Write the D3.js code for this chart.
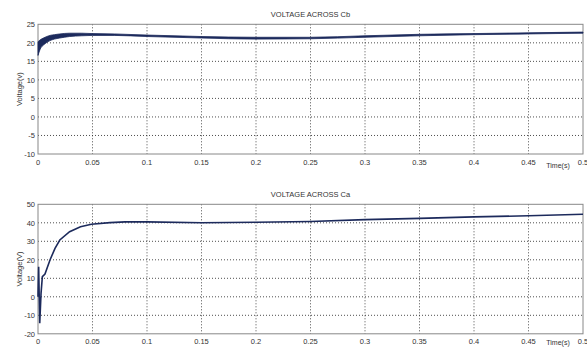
<!DOCTYPE html>
<html>
<head>
<meta charset="utf-8">
<script src="https://cdn.jsdelivr.net/npm/d3@7"></script>
<style>
  body { margin: 0; background: #fff; }
  text { font-family: "Liberation Sans", Arial, sans-serif; fill: #333; }
</style>
</head>
<body>
<svg id="chart" width="587" height="347"></svg>
<script>
// tick values shared by both panels
var timeTicks = [0, 0.05, 0.1, 0.15, 0.2, 0.25, 0.3, 0.35, 0.4, 0.45, 0.5];
var cbTicks = [-10, -5, 0, 5, 10, 15, 20, 25];
var caTicks = [-20, -10, 0, 10, 20, 30, 40, 50];

// voltage across Cb : ripple band (upper / lower envelope)
var cbTime  = [0, 0.002, 0.005, 0.008, 0.011, 0.015, 0.02, 0.029, 0.04, 0.05, 0.07, 0.1, 0.15, 0.2, 0.25, 0.3, 0.35, 0.4, 0.45, 0.5];
var cbUpper = [20.3, 20.8, 21.3, 21.7, 22.0, 22.2, 22.4, 22.6, 22.6, 22.5, 22.4, 22.1, 21.7, 21.5, 21.5, 21.9, 22.3, 22.5, 22.7, 22.9];
var cbLower = [16.6, 18.3, 19.4, 20.1, 20.6, 21.0, 21.3, 21.7, 21.9, 22.0, 22.0, 21.7, 21.3, 21.0, 21.1, 21.5, 21.9, 22.2, 22.4, 22.6];

// voltage across Ca
var caTime = [0, 0.0006, 0.0016, 0.0028, 0.004, 0.0064, 0.011, 0.0156, 0.02, 0.029, 0.039, 0.049, 0.066, 0.08, 0.1, 0.15, 0.2, 0.25, 0.3, 0.35, 0.4, 0.45, 0.5];
var caVolt = [0, 16.3, -14.3, 2, 10.9, 12.3, 19.9, 26.2, 30.7, 35.2, 37.9, 39.2, 40.1, 40.5, 40.5, 40.0, 40.3, 40.7, 41.7, 42.4, 43.2, 43.8, 44.6];

var svg = d3.select('#chart');
var lineColor = '#1c2a5c';
var left = 38, right = 583;

var x = d3.scaleLinear().domain([0, 0.5]).range([left, right]);

function panel(top, bottom, yTicks, title, ylabel, timeDy) {
  var y = d3.scaleLinear().domain([yTicks[0], yTicks[yTicks.length - 1]]).range([bottom, top]);
  var g = svg.append('g');

  // grid
  g.selectAll('.vg').data(timeTicks.slice(1, -1)).enter().append('line')
    .attr('x1', function(d){ return x(d); }).attr('x2', function(d){ return x(d); })
    .attr('y1', top).attr('y2', bottom)
    .attr('stroke', '#222').attr('stroke-width', 0.8).attr('stroke-dasharray', '1,2');
  g.selectAll('.hg').data(yTicks.slice(1, -1)).enter().append('line')
    .attr('x1', left).attr('x2', right)
    .attr('y1', function(d){ return y(d); }).attr('y2', function(d){ return y(d); })
    .attr('stroke', '#222').attr('stroke-width', 0.8).attr('stroke-dasharray', '1,2');

  // frame
  g.append('rect').attr('x', left).attr('y', top)
    .attr('width', right - left).attr('height', bottom - top)
    .attr('fill', 'none').attr('stroke', '#888').attr('stroke-width', 1);

  // tick labels
  g.selectAll('.xt').data(timeTicks).enter().append('text')
    .attr('x', function(d){ return x(d); }).attr('y', bottom + 10.5)
    .attr('text-anchor', 'middle').attr('font-size', 7.5)
    .text(function(d){ return d3.format('~g')(d); });
  g.selectAll('.yt').data(yTicks).enter().append('text')
    .attr('x', left - 3).attr('y', function(d){ return y(d) + 2.7; })
    .attr('text-anchor', 'end').attr('font-size', 7.5)
    .text(function(d){ return d; });

  g.append('text').attr('x', (left + right) / 2).attr('y', top - 7)
    .attr('text-anchor', 'middle').attr('font-size', 7.5).text(title);
  g.append('text').attr('x', 558).attr('y', bottom + timeDy)
    .attr('text-anchor', 'middle').attr('font-size', 7).text('Time(s)');
  g.append('text').attr('transform', 'translate(22,' + (top + bottom) / 2 + ') rotate(-90)')
    .attr('text-anchor', 'middle').attr('font-size', 7.5).text(ylabel);

  return {g: g, y: y};
}

var p1 = panel(24.3, 154, cbTicks, 'VOLTAGE ACROSS Cb', 'Voltage(v)', 14);
var p2 = panel(204.3, 333.8, caTicks, 'VOLTAGE ACROSS Ca', 'Voltage(V)', 11);

var area = d3.area()
  .x(function(d, i){ return x(cbTime[i]); })
  .y0(function(d, i){ return p1.y(cbLower[i]); })
  .y1(function(d, i){ return p1.y(cbUpper[i]); })
  .curve(d3.curveMonotoneX);
p1.g.append('path').datum(cbTime).attr('d', area)
  .attr('fill', lineColor).attr('stroke', lineColor).attr('stroke-width', 0.8);

var line = d3.line()
  .x(function(d, i){ return x(caTime[i]); })
  .y(function(d, i){ return p2.y(caVolt[i]); });
p2.g.append('path').datum(caTime).attr('d', line)
  .attr('fill', 'none').attr('stroke', lineColor).attr('stroke-width', 1.6);
</script>
</body>
</html>
